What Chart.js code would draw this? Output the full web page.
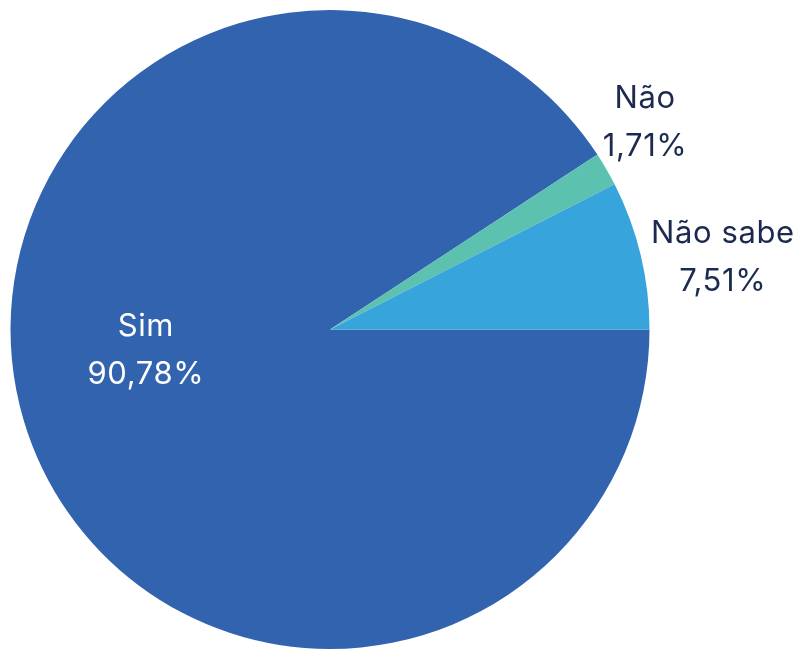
<!DOCTYPE html>
<html>
<head>
<meta charset="utf-8">
<script src="https://cdn.jsdelivr.net/npm/chart.js@4.4.1/dist/chart.umd.min.js"></script>
<style>
  html, body { margin: 0; padding: 0; background: #ffffff; }
  #wrap { width: 805px; height: 649px; position: relative; }
</style>
</head>
<body>
<div id="wrap"><canvas id="pieChart"></canvas></div>
<script>
// Chart data
const categories = ['Sim', 'Não', 'Não sabe'];
const percentages = [90.78, 1.71, 7.51];
const valueLabels = ['90,78%', '1,71%', '7,51%'];

const sliceColors = ['#3263af', '#5dc1af', '#38a4dc'];
const textColors = ['#ffffff', '#1b2a4e', '#1b2a4e'];
// label placement relative to each slice: angle nudge (deg) and radius factor
const labelPlace = [
    { nudge: 10, r: 0.58 },
    { nudge: -3.2, r: 1.18 },
    { nudge: 3.1, r: 1.25 }
];

// draws category name + percentage for each slice
const sliceLabels = {
    id: 'sliceLabels',
    afterDatasetsDraw(chart) {
        const ctx = chart.ctx;
        const arcs = chart.getDatasetMeta(0).data;
        ctx.save();
        ctx.font = '31px Inter, "Noto Sans", sans-serif';
        ctx.letterSpacing = '0.6px';
        ctx.textAlign = 'center';
        ctx.textBaseline = 'middle';
        arcs.forEach((arc, i) => {
            const p = labelPlace[i];
            const mid = (arc.startAngle + arc.endAngle) / 2 + p.nudge * Math.PI / 180;
            const dist = arc.outerRadius * p.r;
            const x = arc.x + Math.cos(mid) * dist;
            const y = arc.y + Math.sin(mid) * dist;
            ctx.fillStyle = textColors[i];
            ctx.fillText(categories[i], x, y - 24);
            ctx.fillText(valueLabels[i], x, y + 24);
        });
        ctx.restore();
    }
};

const ctx = document.getElementById('pieChart').getContext('2d');
new Chart(ctx, {
    type: 'pie',
    data: {
        labels: categories,
        datasets: [{
            data: percentages,
            backgroundColor: sliceColors,
            borderWidth: 0
        }]
    },
    options: {
        responsive: true,
        maintainAspectRatio: false,
        animation: false,
        rotation: 90,
        layout: {
            padding: { left: 10, top: 10, right: 155, bottom: 0 }
        },
        plugins: {
            legend: { display: false },
            tooltip: { enabled: false }
        }
    },
    plugins: [sliceLabels]
});
</script>
</body>
</html>
